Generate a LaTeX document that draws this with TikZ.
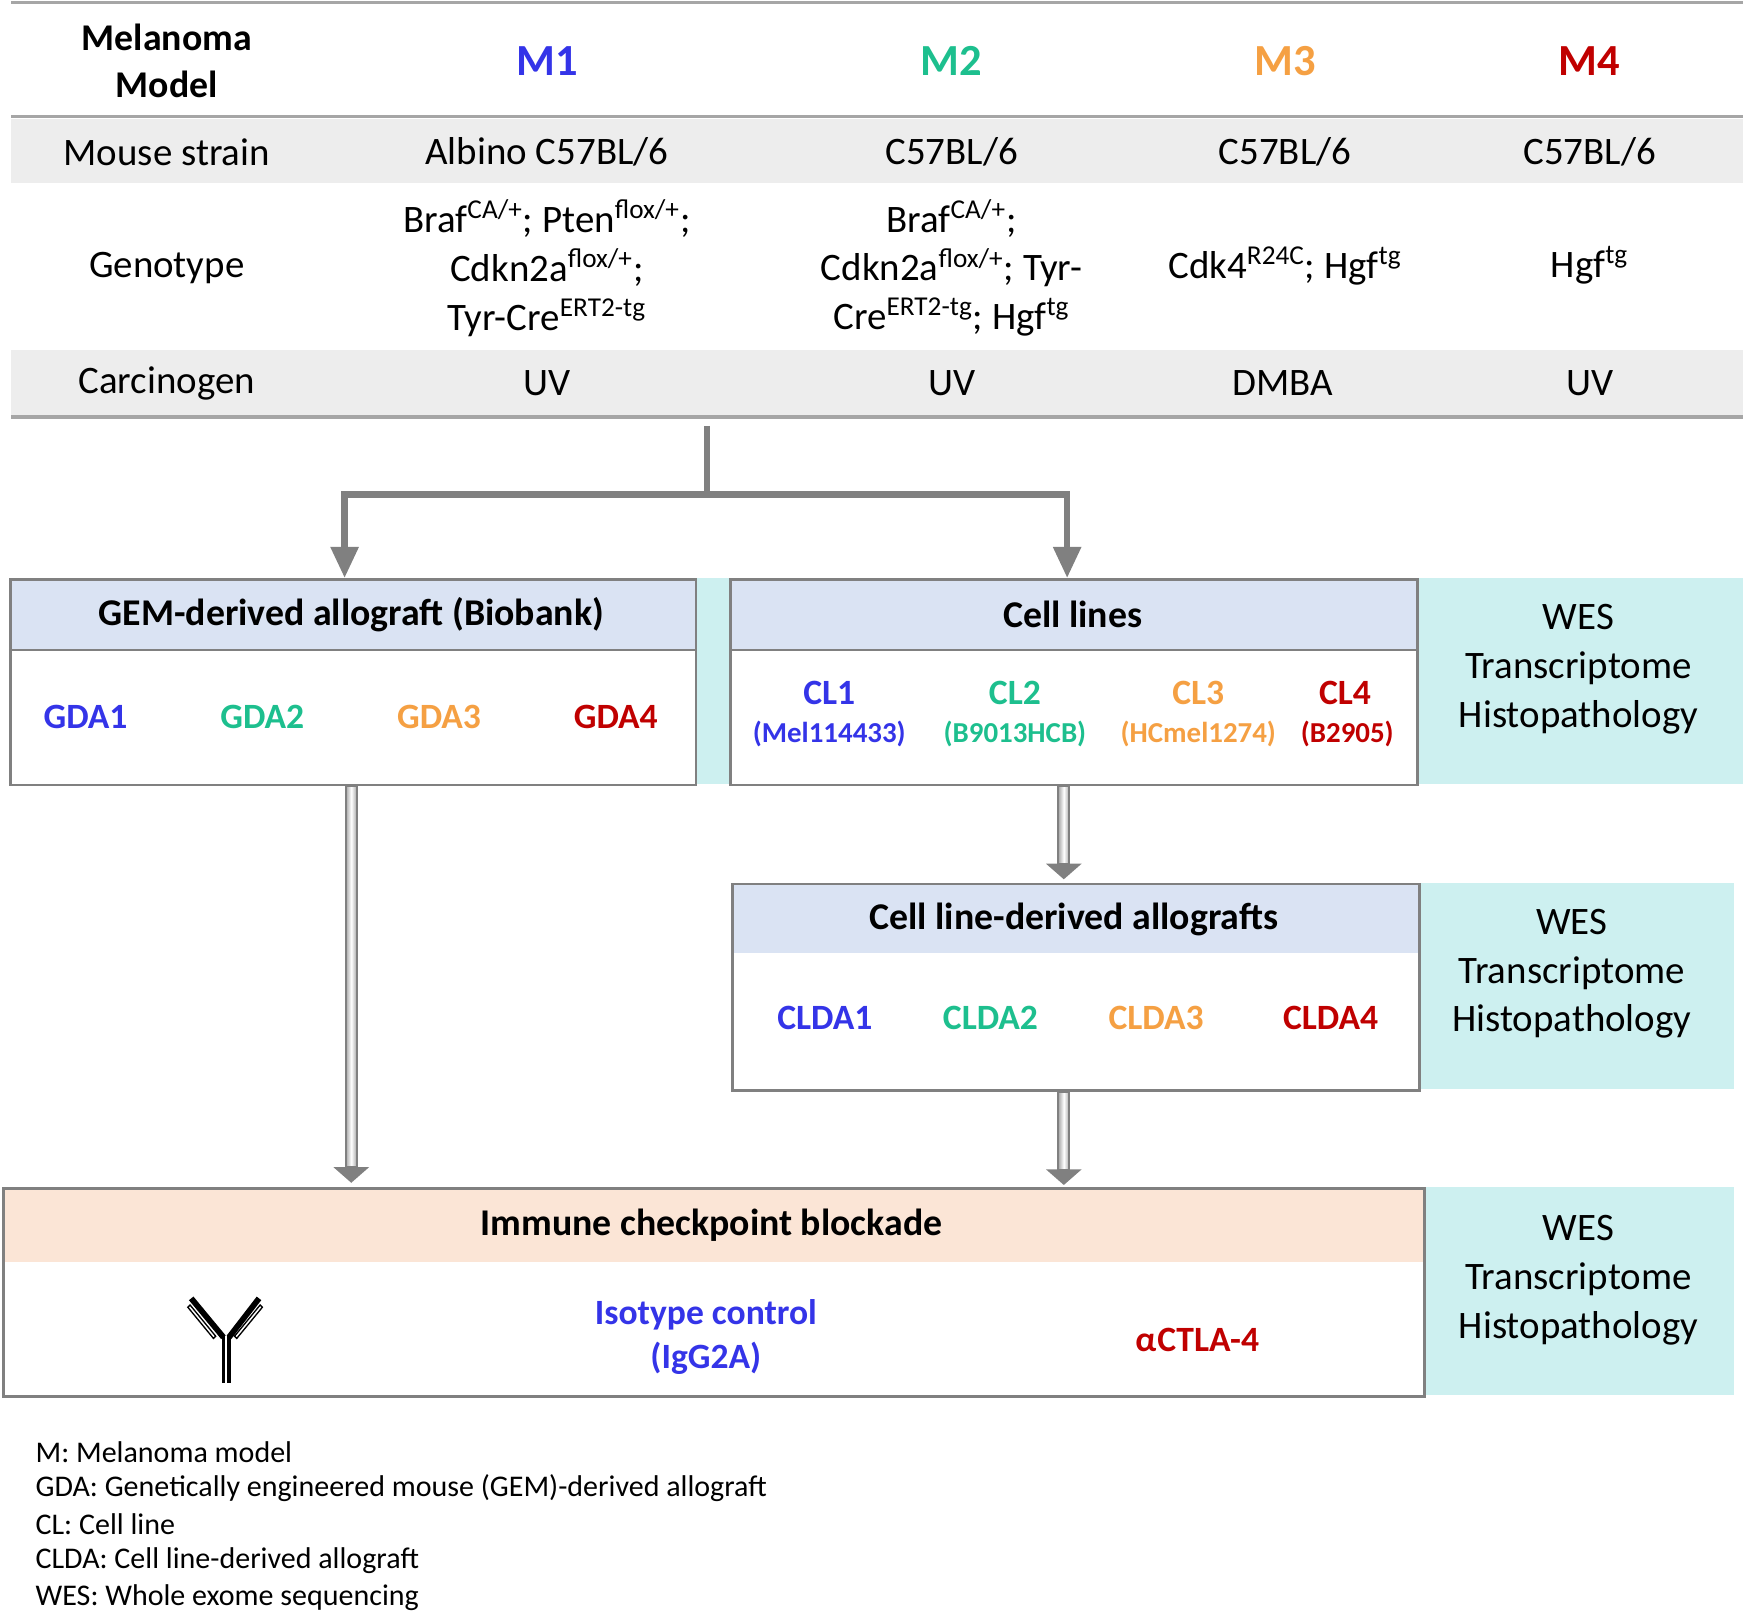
\documentclass[tikz,border=0pt]{standalone}
\usepackage{fontspec}
\setmainfont{Carlito}
\usetikzlibrary{arrows.meta}
\definecolor{cB}{HTML}{3434E8}
\definecolor{cG}{HTML}{1DBF8E}
\definecolor{cO}{HTML}{F5A043}
\definecolor{cR}{HTML}{C00000}
\definecolor{rowg}{HTML}{EDEDED}
\definecolor{lgray}{HTML}{A6A6A6}
\definecolor{hblue}{HTML}{DAE3F3}
\definecolor{peach}{HTML}{FBE5D6}
\definecolor{cyanb}{HTML}{CDF0F0}
\definecolor{agray}{HTML}{808080}
\begin{document}
\begin{tikzpicture}[x=0.5pt,y=-0.5pt,
  cell/.style={font=\fontsize{17.5}{21}\selectfont,align=center},
  mh/.style={font=\fontsize{20}{22}\selectfont\bfseries},
  ttl/.style={font=\fontsize{17}{19}\selectfont\bfseries},
  lab/.style={font=\fontsize{16}{17}\selectfont\bfseries},
  sub/.style={font=\fontsize{13}{14}\selectfont\bfseries},
  box/.style={draw=agray,line width=1.2pt},
  omics/.style={font=\fontsize{17.5}{22}\selectfont,align=center},
  leg/.style={font=\fontsize{13.5}{14}\selectfont,anchor=west},
  trunk/.style={draw=agray,line width=3pt}]
\useasboundingbox (0,0) rectangle (1568,1452);
% table
\fill[rowg] (10,107) rectangle (1568,165);
\fill[rowg] (10,315) rectangle (1568,373);
\draw[lgray,line width=1.5pt] (10,2) -- (1568,2);
\draw[lgray,line width=1.5pt] (10,105) -- (1568,105);
\draw[lgray,line width=1.5pt] (10,375) -- (1568,375);
\node[cell,font=\fontsize{17}{21}\selectfont\bfseries] (mm) at (150,55) {Melanoma\\Model};
\node[mh,text=cB] (m1) at (492,55) {M1};
\node[mh,text=cG] (m2) at (856,55) {M2};
\node[mh,text=cO] (m3) at (1156,55) {M3};
\node[mh,text=cR] (m4) at (1430,55) {M4};
\node[cell] (ms) at (150,137) {Mouse strain};
\node[cell] (s1) at (492,137) {Albino C57BL/6};
\node[cell] (s2) at (856,137) {C57BL/6};
\node[cell] (s3) at (1156,137) {C57BL/6};
\node[cell] (s4) at (1430,137) {C57BL/6};
\node[cell] (gt) at (150,241) {Genotype};
\node[cell,font=\fontsize{17.5}{22}\selectfont] (g1) at (492,241) {Braf\textsuperscript{CA/+}; Pten\textsuperscript{flox/+};\\Cdkn2a\textsuperscript{flox/+};\\Tyr-Cre\textsuperscript{ERT2-tg}};
\node[cell,font=\fontsize{17.5}{22}\selectfont] (g2) at (856,241) {Braf\textsuperscript{CA/+};\\Cdkn2a\textsuperscript{flox/+}; Tyr-\\Cre\textsuperscript{ERT2-tg}; Hgf\textsuperscript{tg}};
\node[cell] (g3) at (1156,239) {Cdk4\textsuperscript{R24C}; Hgf\textsuperscript{tg}};
\node[cell] (g4) at (1430,239) {Hgf\textsuperscript{tg}};
\node[cell] (cg) at (150,345) {Carcinogen};
\node[cell] (c1) at (492,345) {UV};
\node[cell] (c2) at (856,345) {UV};
\node[cell] (c3) at (1154,345) {DMBA};
\node[cell] (c4) at (1430,345) {UV};
% cyan bands
\fill[cyanb] (625,520) rectangle (1568,705);
\fill[cyanb] (1278,794) rectangle (1560,980);
\fill[cyanb] (1283,1068) rectangle (1560,1255);
% GEM box
\fill[hblue] (8,520) rectangle (625,585);
\fill[white] (8,585) rectangle (625,705);
\draw[agray,line width=0.8pt] (8,585) -- (625,585);
\node[box,minimum width=617*0.5pt,minimum height=185*0.5pt,anchor=north west,inner sep=0pt] (gem) at (8,520) {};
\node[ttl] (gemt) at (316,553) {GEM-derived allograft (Biobank)};
\node[lab,text=cB] (gda1) at (77,645) {GDA1};
\node[lab,text=cG] (gda2) at (236,645) {GDA2};
\node[lab,text=cO] (gda3) at (395,645) {GDA3};
\node[lab,text=cR] (gda4) at (554,645) {GDA4};
% Cell lines box
\fill[hblue] (656,520) rectangle (1274,585);
\fill[white] (656,585) rectangle (1274,705);
\draw[agray,line width=0.8pt] (656,585) -- (1274,585);
\node[box,minimum width=618*0.5pt,minimum height=185*0.5pt,anchor=north west,inner sep=0pt] (cl) at (656,520) {};
\node[ttl] (clt) at (965,553) {Cell lines};
\node[lab,text=cB] (cl1) at (746,623) {CL1};
\node[sub,text=cB] (cl1s) at (746,660) {(Mel114433)};
\node[lab,text=cG] (cl2) at (913,623) {CL2};
\node[sub,text=cG] (cl2s) at (913,660) {(B9013HCB)};
\node[lab,text=cO] (cl3) at (1078,623) {CL3};
\node[sub,text=cO] (cl3s) at (1078,660) {(HCmel1274)};
\node[lab,text=cR] (cl4) at (1210,623) {CL4};
\node[sub,text=cR] (cl4s) at (1212,660) {(B2905)};
\node[omics] (om1) at (1420,602) {WES\\Transcriptome\\Histopathology};
% CLDA box
\fill[hblue] (658,794) rectangle (1276,857);
\fill[white] (658,857) rectangle (1276,980);
\node[box,minimum width=618*0.5pt,minimum height=186*0.5pt,anchor=north west,inner sep=0pt] (clda) at (658,794) {};
\node[ttl] (cldat) at (966,827) {Cell line-derived allografts};
\node[lab,text=cB] (cd1) at (742,916) {CLDA1};
\node[lab,text=cG] (cd2) at (891,916) {CLDA2};
\node[lab,text=cO] (cd3) at (1040,916) {CLDA3};
\node[lab,text=cR] (cd4) at (1197,916) {CLDA4};
\node[omics] (om2) at (1414,876) {WES\\Transcriptome\\Histopathology};
% ICB box
\fill[peach] (2,1068) rectangle (1280,1135);
\fill[white] (2,1135) rectangle (1280,1255);
\node[box,minimum width=1278*0.5pt,minimum height=187*0.5pt,anchor=north west,inner sep=0pt] (icb) at (2,1068) {};
\node[ttl] (icbt) at (640,1102) {Immune checkpoint blockade};
\node[lab,text=cB,align=center,font=\fontsize{16}{20}\selectfont\bfseries] (iso) at (635,1203) {Isotype control\\(IgG2A)};
\node[lab,text=cR] (ctla) at (1077,1205) {α\kern0.5ptCTLA-4};
\node[omics] (om3) at (1420,1152) {WES\\Transcriptome\\Histopathology};
% antibody
\draw[line width=1.6pt] (201,1202) -- (201,1244) (206,1202) -- (206,1244);
\draw[line width=2.6pt] (201,1203) -- (172,1168) (206,1203) -- (233,1168);
\draw[line width=0.6pt] (169,1176) -- (192,1204) -- (194,1202) -- (171,1174) -- cycle;
\draw[line width=0.6pt] (236,1176) -- (213,1204) -- (211,1202) -- (234,1174) -- cycle;
% tree arrows
\coordinate (top) at (636,383);
\coordinate (jn) at (636,445);
\draw[trunk] (top) -- (jn);
\draw[trunk,-{Triangle[length=14pt,width=12pt]}] (jn) -| ([xshift=302*0.5pt]gem.north west);
\draw[trunk,-{Triangle[length=14pt,width=12pt]}] (jn) -| ([xshift=304*0.5pt]cl.north west);
% double arrows
\newcommand{\dbarrow}[3]{%
  \shade[left color=agray!70,right color=agray!70,middle color=white,draw=agray,line width=0.8pt] (#1-5,#2) rectangle (#1+5,#3-14);
  \fill[agray] (#1-16,#3-14) -- (#1+16,#3-14) -- (#1,#3) -- cycle;}
\dbarrow{316}{707}{1064}
\dbarrow{957}{707}{791}
\dbarrow{957}{982}{1066}
% legend
\node[leg] (l1) at (25,1306) {M: Melanoma model};
\node[leg] (l2) at (25,1339) {GDA: Genetically engineered mouse (GEM)-derived allograft};
\node[leg] (l3) at (25,1371) {CL: Cell line};
\node[leg] (l4) at (25,1404) {CLDA: Cell line-derived allograft};
\node[leg] (l5) at (25,1437) {WES: Whole exome sequencing};
\end{tikzpicture}
\end{document}
